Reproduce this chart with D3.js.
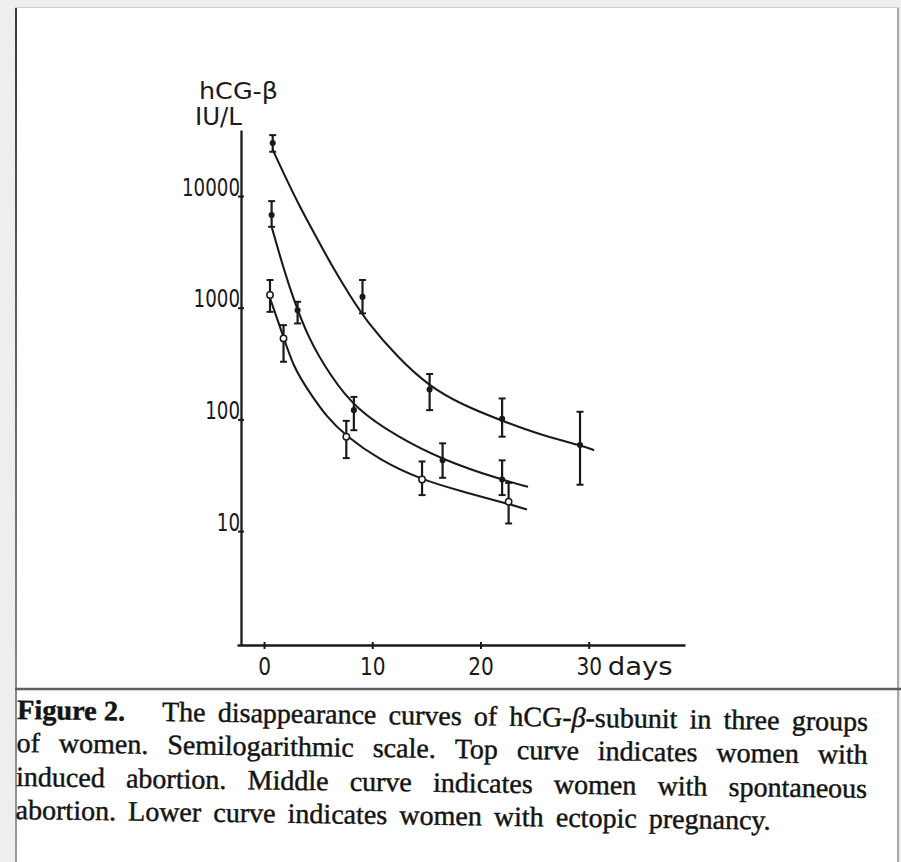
<!DOCTYPE html>
<html>
<head>
<meta charset="utf-8">
<title>hCG-beta disappearance curves</title>
<script src="https://d3js.org/d3.v7.min.js"></script>
<style>
  body { margin: 0; background: #f4f4f4; }
  svg { display: block; }
  .tick text, .lab { font-family: "DejaVu Sans", sans-serif; font-size: 25px; fill: #1a1a1a; }
  .cap { font-family: "Liberation Serif", "DejaVu Serif", serif; font-size: 28px; fill: #141414; stroke: #141414; stroke-width: 0.45px; }
</style>
</head>
<body>
<svg width="901" height="862"></svg>
<script>
// error bar points (days, IU/L)
var induced_days = [0.8, 9.1, 15.3, 22.0, 29.2];
var induced_mean = [29800, 1250, 185, 101, 59];
var induced_hi   = [35100, 1770, 255, 154, 117];
var induced_lo   = [24900, 890, 121, 70, 26];

var spont_days = [0.7, 3.1, 8.3, 16.5, 22.0];
var spont_mean = [6750, 950, 121, 43, 29];
var spont_hi   = [9000, 1130, 159, 61, 43];
var spont_lo   = [5300, 723, 80, 30, 21];

var ectop_days = [0.55, 1.8, 7.6, 14.6, 22.6];
var ectop_mean = [1300, 531, 70, 29, 18.3];
var ectop_hi   = [1770, 698, 97, 42, 27];
var ectop_lo   = [918, 328, 45, 21, 11.7];

// fitted curves as drawn
var induced_curve_days = [0.8, 1.8, 3.3, 4.9, 6.4, 7.9, 9.5, 12.3, 15.3, 18.4, 22.0, 26.1, 29.2, 30.5];
var induced_curve_vals = [26000, 16000, 8000, 4170, 2250, 1300, 750, 363, 196, 134, 97, 70, 59, 53];
var spont_curve_days = [0.7, 1.8, 2.7, 4.1, 6.1, 8.4, 12.3, 16.6, 22.0, 24.4];
var spont_curve_vals = [5300, 2250, 1210, 531, 249, 126, 70, 43, 28.7, 24.9];
var ectop_curve_days = [0.4, 1.8, 2.7, 4.25, 5.8, 7.5, 10.7, 14.6, 18.4, 22.4, 24.3];
var ectop_curve_vals = [1340, 548, 296, 171, 105, 72, 43, 28.7, 22.5, 17.7, 15.6];

var xTicks = [0, 10, 20, 30];
var yTicks = [10, 100, 1000, 10000];

var captionHead = "Figure 2.";
var captionLines = [
  "The disappearance curves of hCG-β-subunit in three groups",
  "of women. Semilogarithmic scale. Top curve indicates women with",
  "induced abortion. Middle curve indicates women with spontaneous",
  "abortion. Lower curve indicates women with ectopic pregnancy."
];

var ink = "#1a1a1a";
var digitW = 11.6;
var svg = d3.select("svg");

// page
svg.append("rect").attr("width", 901).attr("height", 862).attr("fill", "#eeeeee");
svg.append("rect").attr("x", 16).attr("y", 7).attr("width", 882).attr("height", 855).attr("fill", "#ffffff");
var grad = svg.append("defs").append("linearGradient").attr("id", "edge")
  .attr("x1", 0).attr("y1", 0).attr("x2", 0).attr("y2", 1);
grad.append("stop").attr("offset", "0%").attr("stop-color", "#3a3a3a");
grad.append("stop").attr("offset", "100%").attr("stop-color", "#9a9a9a");
svg.append("rect").attr("x", 15).attr("y", 7).attr("width", 2).attr("height", 855).attr("fill", "url(#edge)");
svg.append("rect").attr("x", 897).attr("y", 7).attr("width", 2).attr("height", 855).attr("fill", "#a8a8a8");
svg.append("line").attr("x1", 15).attr("x2", 899).attr("y1", 7.5).attr("y2", 7.5).attr("stroke", "#cfcfcf");

var x = d3.scaleLinear().domain([-2.5, 38.9]).range([237, 685]);
var y = d3.scaleLog().domain([0.955, 39000]).range([645, 130]);

// y axis
var gy = svg.append("g").attr("transform", "translate(241,0)")
  .call(d3.axisLeft(y).tickValues(yTicks).tickFormat(d3.format("d"))
    .tickSizeInner(3).tickSizeOuter(0).tickPadding(-2));
gy.selectAll(".tick line").attr("x1", 3).attr("stroke", ink).attr("stroke-width", 2);
gy.selectAll(".tick text").attr("dy", "0").attr("y", -1)
  .attr("textLength", function(d) { return String(d).length * digitW; })
  .attr("lengthAdjust", "spacingAndGlyphs");
gy.select(".domain").attr("stroke", ink).attr("stroke-width", 2.3);

// x axis
var gx = svg.append("g").attr("transform", "translate(0,645)")
  .call(d3.axisBottom(x).tickValues(xTicks).tickSizeInner(4).tickSizeOuter(0).tickPadding(25));
gx.selectAll(".tick line").attr("y1", -3).attr("stroke", ink).attr("stroke-width", 2);
gx.selectAll(".tick text").attr("dy", "0").attr("y", 30)
  .attr("textLength", function(d) { return String(d).length * 12.8; })
  .attr("lengthAdjust", "spacingAndGlyphs");
gx.select(".domain").attr("stroke", ink).attr("stroke-width", 2.3);

svg.append("text").attr("class", "lab").attr("x", x(30) + 19).attr("y", 675)
  .attr("textLength", 65).attr("lengthAdjust", "spacingAndGlyphs").text("days");

svg.append("text").attr("class", "lab").attr("x", 199).attr("y", 99).style("font-size", "23px")
  .attr("textLength", 79).attr("lengthAdjust", "spacingAndGlyphs").text("hCG-β");
svg.append("text").attr("class", "lab").attr("x", 195).attr("y", 125)
  .attr("textLength", 47).attr("lengthAdjust", "spacingAndGlyphs").text("IU/L");

// curves
var line = d3.line().x(function(d) { return x(d[0]); }).y(function(d) { return y(d[1]); })
  .curve(d3.curveBasis);
[[induced_curve_days, induced_curve_vals],
 [spont_curve_days, spont_curve_vals],
 [ectop_curve_days, ectop_curve_vals]].forEach(function(c) {
  svg.append("path").datum(d3.zip(c[0], c[1]))
    .attr("d", line).attr("fill", "none").attr("stroke", ink).attr("stroke-width", 2.1);
});

// error bars
function bars(days, mean, hi, lo, open) {
  var g = svg.append("g");
  var pts = days.map(function(d, i) { return { d: d, m: mean[i], hi: hi[i], lo: lo[i] }; });
  g.selectAll(".eb").data(pts).enter().append("line")
    .attr("x1", function(p) { return x(p.d); }).attr("x2", function(p) { return x(p.d); })
    .attr("y1", function(p) { return y(p.hi); }).attr("y2", function(p) { return y(p.lo); })
    .attr("stroke", ink).attr("stroke-width", 2.2);
  ["hi", "lo"].forEach(function(k) {
    g.selectAll(".cap-" + k).data(pts).enter().append("line")
      .attr("x1", function(p) { return x(p.d) - 3.5; }).attr("x2", function(p) { return x(p.d) + 3.5; })
      .attr("y1", function(p) { return y(p[k]); }).attr("y2", function(p) { return y(p[k]); })
      .attr("stroke", ink).attr("stroke-width", 2);
  });
  g.selectAll("circle").data(pts).enter().append("circle")
    .attr("cx", function(p) { return x(p.d); }).attr("cy", function(p) { return y(p.m); })
    .attr("r", open ? 3.2 : 2.3)
    .attr("fill", open ? "#fff" : ink).attr("stroke", ink).attr("stroke-width", 1.5);
}
bars(induced_days, induced_mean, induced_hi, induced_lo, false);
bars(spont_days, spont_mean, spont_hi, spont_lo, false);
bars(ectop_days, ectop_mean, ectop_hi, ectop_lo, true);

// separator
svg.append("line").attr("x1", 15).attr("x2", 901).attr("y1", 689).attr("y2", 689)
  .attr("stroke", "#5e5e5e").attr("stroke-width", 2.5);

// caption, word-justified, slightly skewed like the scan
var cap = svg.append("g").attr("transform", "rotate(0.8 17 719)");
var baselines = [719, 752, 786, 819];
var starts = [162, 17, 17, 17];
var ends = [868, 868, 868, 772];
cap.append("text").attr("class", "cap").attr("x", 17).attr("y", baselines[0])
  .attr("font-weight", "bold").attr("textLength", 108).attr("lengthAdjust", "spacingAndGlyphs")
  .text(captionHead);
captionLines.forEach(function(str, li) {
  var words = str.split(" ");
  var nodes = words.map(function(w) {
    var t = cap.append("text").attr("class", "cap").attr("y", baselines[li]);
    if (w.indexOf("β") >= 0) {
      var parts = w.split("β");
      t.append("tspan").text(parts[0]);
      t.append("tspan").attr("font-style", "italic").text("β");
      t.append("tspan").text(parts[1]);
    } else {
      t.text(w);
    }
    return t;
  });
  var widths = nodes.map(function(t) { return t.node().getComputedTextLength(); });
  var total = d3.sum(widths);
  var gap = (ends[li] - starts[li] - total) / (words.length - 1);
  var cx = starts[li];
  nodes.forEach(function(t, i) { t.attr("x", cx); cx += widths[i] + gap; });
});
</script>
</body>
</html>
